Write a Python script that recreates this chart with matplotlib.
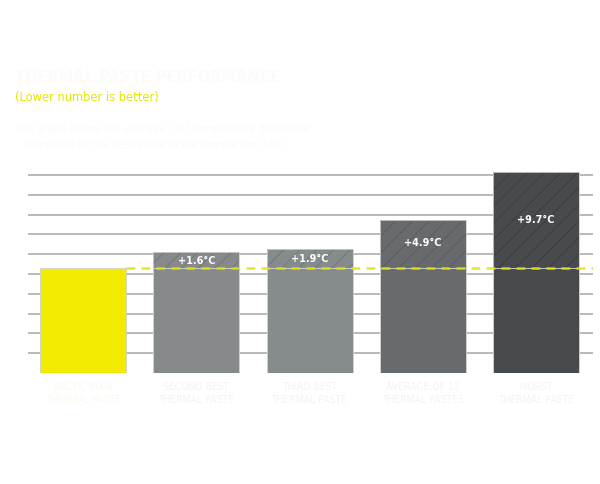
import matplotlib
matplotlib.use("Agg")
import matplotlib.pyplot as plt
import numpy as np

# ---- data ----
categories = ["ARCTIC MX-6\nTHERMAL PASTE", "SECOND BEST\nTHERMAL PASTE", "THIRD BEST\nTHERMAL PASTE",
              "AVERAGE OF 12\nTHERMAL PASTES", "WORST\nTHERMAL PASTE"]
base_value = 10.6                      # height of the best paste (axis units, °C)
deltas = [0.0, 1.6, 1.9, 4.9, 9.7]     # extra °C over best
delta_labels = ["", "+1.6°C", "+1.9°C", "+4.9°C", "+9.7°C"]
grid_values = [2, 4, 6, 8, 10, 12, 14, 16, 18, 20]

bar_colors = ["#f2ea00", "#868a8b", "#868b8c", "#676b6e", "#474b4d"]
hatch_colors = ["#f2ea00", "#737778", "#737879", "#585c5f", "#3b3e40"]

title = "THERMAL PASTE PERFORMANCE"
subtitle_yellow = "(Lower number is better)"
subtitle = ("The graph shows the average CPU temperature difference\n"
            "   compared to the best paste in the comparison test")

plt.rcParams["hatch.linewidth"] = 0.7

fig = plt.figure(figsize=(6.0, 4.85), dpi=100)
fig.patch.set_facecolor("white")

ax = fig.add_axes([28/600, (485-374)/485, (593-28)/600, (374-170)/485])
ax.set_xlim(-0.486, 4.503)
ax.set_ylim(0, 20.6)
ax.axis("off")

# grid lines
for g in grid_values:
    ax.axhline(g, color="#b3b3b3", lw=1.3, zorder=0)

x = np.arange(len(categories))
w = 0.76
# base bars
ax.bar(x, [base_value]*len(x), width=w, color=bar_colors, edgecolor="#cfcfcf",
       linewidth=0.6, zorder=2)
# delta (hatched) parts
for i in range(1, len(x)):
    ax.bar(x[i], deltas[i], bottom=base_value, width=w, color=bar_colors[i],
           edgecolor=hatch_colors[i], hatch="//", linewidth=0, zorder=2)
    ax.bar(x[i], base_value + deltas[i], width=w, fill=False, edgecolor="#cfcfcf",
           linewidth=0.6, zorder=3)
    ax.text(x[i], base_value + deltas[i]/2 + (0.05 if deltas[i] < 3 else 0.15),
            delta_labels[i], ha="center", va="center", color="white",
            fontsize=7, fontweight="bold", zorder=5)

# dashed reference line
ax.plot([x[0] + w/2, 4.503], [base_value, base_value], color="#e8e000",
        lw=1.8, ls=(0, (3.5, 2.5)), alpha=0.85, zorder=4, solid_capstyle="butt")

# category labels (faint)
for i, c in enumerate(categories):
    col = "#fafaf0" if i == 0 else "#f3f3f3"
    ax.text(x[i], -0.8, c, ha="center", va="top", fontsize=7.5, color=col,
            family="DejaVu Sans", fontstretch="condensed",
            linespacing=1.4)

# titles
fig.text(15/600, 1 - 77/485, title, fontsize=10.5, fontweight="bold", color="#fbfbfb",
         va="center", ha="left")
fig.text(15/600, 1 - 98/485, subtitle_yellow, fontsize=8.3, color="#e6e600",
         va="center", ha="left")
fig.text(15/600, 1 - 137/485, subtitle, fontsize=7.3, color="#fafaf6",
         va="center", ha="left", linespacing=1.8)

fig.savefig("out.png", dpi=100, facecolor="white")
